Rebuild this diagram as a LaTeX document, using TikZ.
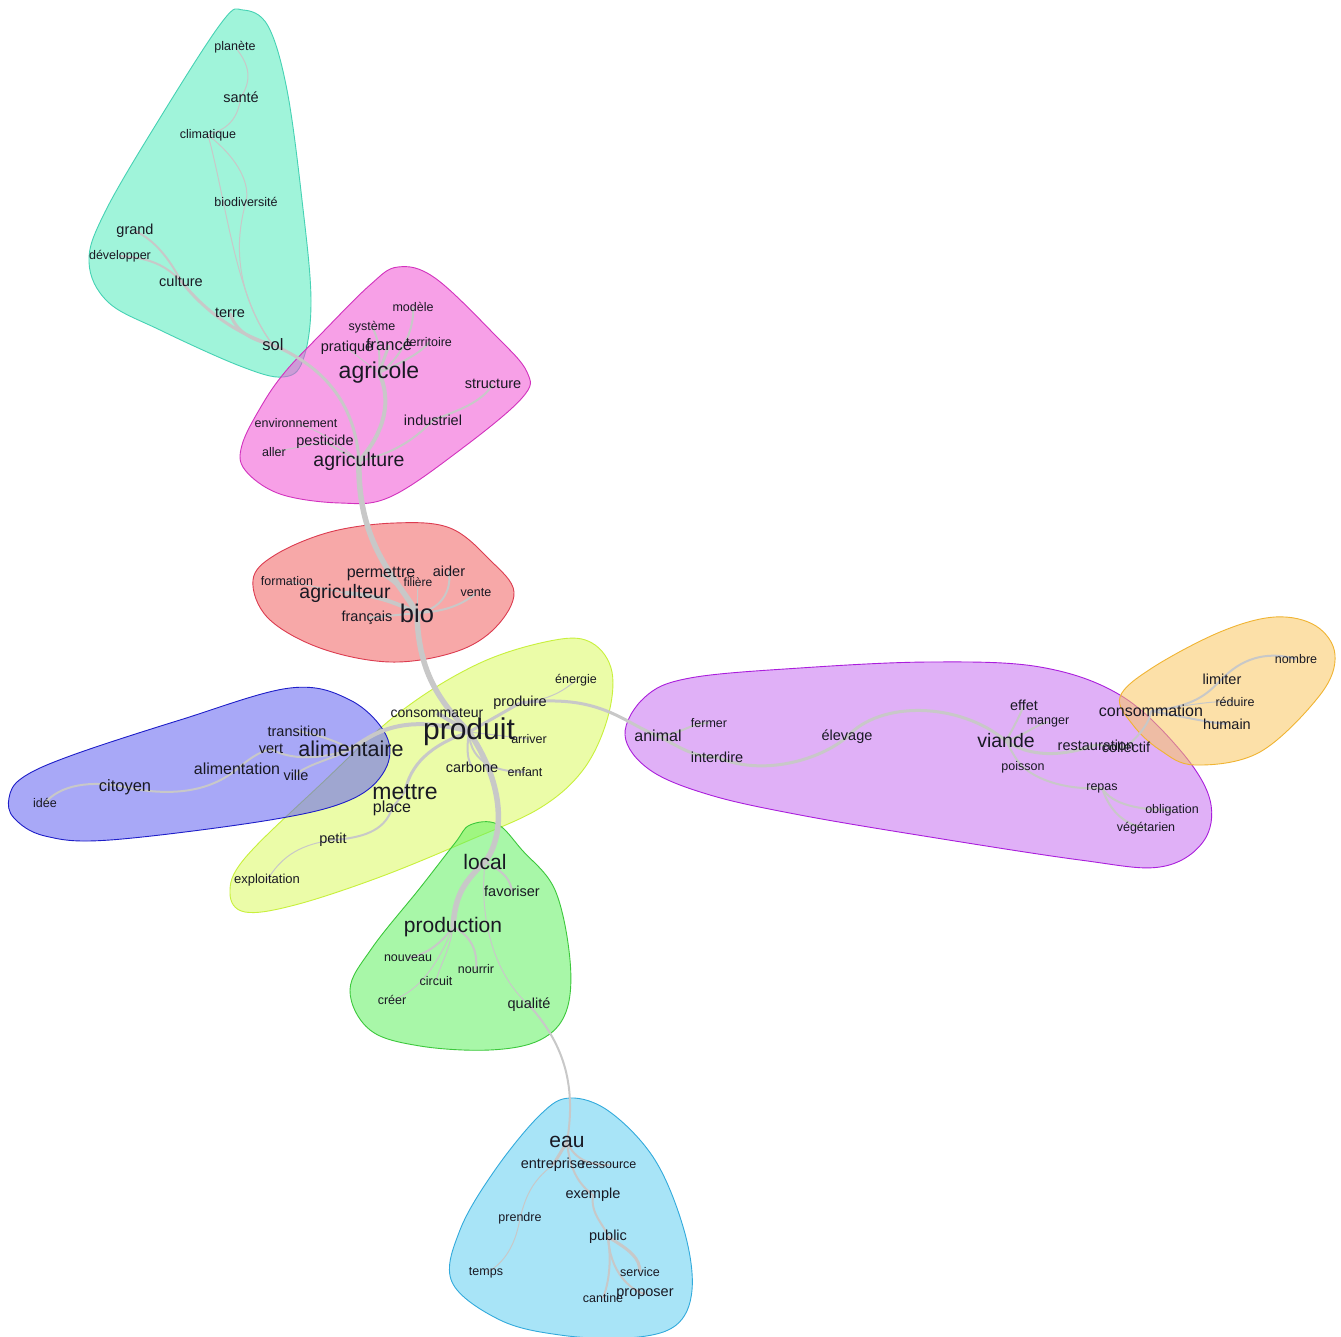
\documentclass[tikz,border=0pt]{standalone}
\usepackage{fontspec}
\setmainfont{Liberation Sans}
\pgfdeclarelayer{blob}
\pgfdeclarelayer{edge}
\pgfsetlayers{blob,edge,main}
\definecolor{edgecol}{RGB}{200,200,200}
\definecolor{cyanF}{RGB}{82,236,188}\definecolor{cyanB}{RGB}{70,210,180}
\definecolor{pinkF}{RGB}{242,82,213}\definecolor{pinkB}{RGB}{210,50,190}
\definecolor{redF}{RGB}{242,97,97}\definecolor{redB}{RGB}{220,60,80}
\definecolor{yelF}{RGB}{220,250,97}\definecolor{yelB}{RGB}{200,240,60}
\definecolor{bluF}{RGB}{97,97,242}\definecolor{bluB}{RGB}{30,30,200}
\definecolor{grnF}{RGB}{97,242,97}\definecolor{grnB}{RGB}{60,200,60}
\definecolor{lbF}{RGB}{97,206,242}\definecolor{lbB}{RGB}{50,170,220}
\definecolor{purF}{RGB}{199,112,242}\definecolor{purB}{RGB}{170,30,220}
\definecolor{orF}{RGB}{250,199,97}\definecolor{orB}{RGB}{240,180,50}
\definecolor{txt}{RGB}{25,25,35}
\begin{document}
\begin{tikzpicture}[x=1pt,y=-1pt,
  lbl/.style={font=\fontsize{#1}{#1}\selectfont,inner sep=0pt,text=txt},
  blob/.style n args={2}{fill=#1,fill opacity=0.55,draw=#2,draw opacity=1,line width=0.9pt},
  e1/.style={draw=edgecol,line width=1pt},
  e2/.style={draw=edgecol,line width=2pt},
  e3/.style={draw=edgecol,line width=3pt},
  e4/.style={draw=edgecol,line width=4pt},
  e5/.style={draw=edgecol,line width=5.5pt}]
\useasboundingbox (0,0) rectangle (1341,1337);
\begin{pgfonlayer}{blob}
\fill[white] (0,0) rectangle (1341,1337);
\begin{scope}
\clip (0,0) rectangle (1341,1337);
\draw[blob={cyanF}{cyanB}] plot[smooth cycle,tension=0.6] coordinates {(243,10) (268,26) (287,90) (302,200) (311,300) (303,360) (283,377) (240,366) (160,330) (108,302) (89,262) (105,212) (160,118) (222,22)};
\draw[blob={pinkF}{pinkB}] plot[smooth cycle,tension=0.6] coordinates {(398,267) (435,278) (495,335) (527,372) (522,398) (460,450) (390,497) (340,503) (280,494) (245,470) (242,445) (262,405) (285,372) (320,335) (370,285)};
\draw[blob={redF}{redB}] plot[smooth cycle,tension=0.6] coordinates {(253,580) (275,555) (330,532) (395,523) (450,528) (490,560) (514,592) (495,628) (455,652) (390,662) (320,648) (268,618)};
\draw[blob={yelF}{yelB}] plot[smooth cycle,tension=0.6] coordinates {(555,640) (592,643) (612,672) (607,720) (583,770) (540,808) (470,840) (380,877) (295,905) (245,912) (230,893) (245,858) (320,785) (400,712) (480,663)};
\draw[blob={bluF}{bluB}] plot[smooth cycle,tension=0.6] coordinates {(22,778) (70,756) (180,720) (290,688) (350,700) (386,735) (385,770) (350,800) (270,820) (110,840) (45,836) (14,818) (9,798)};
\draw[blob={grnF}{grnB}] plot[smooth cycle,tension=0.6] coordinates {(470,825) (497,824) (522,850) (555,890) (570,960) (566,1012) (540,1040) (490,1050) (420,1046) (370,1030) (350,990) (372,948) (420,888) (455,843)};
\draw[blob={lbF}{lbB}] plot[smooth cycle,tension=0.6] coordinates {(570,1098) (610,1112) (655,1160) (684,1230) (692,1290) (675,1326) (628,1338) (560,1335) (500,1320) (452,1282) (460,1230) (495,1170) (540,1115)};
\draw[blob={purF}{purB}] plot[smooth cycle,tension=0.6] coordinates {(625,735) (645,697) (690,678) (800,668) (930,662) (1040,667) (1120,695) (1180,750) (1210,800) (1203,842) (1160,867) (1080,860) (930,837) (800,815) (710,795) (650,770)};
\draw[blob={orF}{orB}] plot[smooth cycle,tension=0.6] coordinates {(1120,697) (1152,668) (1220,632) (1275,617) (1316,626) (1335,655) (1320,695) (1260,752) (1195,765) (1160,750) (1133,725)};
\end{scope}
\end{pgfonlayer}

% ---- labels ----
% cyan
\node[lbl=12.5] (planete) at (235,47) {planète};
\node[lbl=14.5] (sante) at (241,97) {santé};
\node[lbl=12.5] (climatique) at (208,135) {climatique};
\node[lbl=12.5] (biodiversite) at (246,202) {biodiversité};
\node[lbl=14.5] (grand) at (135,231) {grand};
\node[lbl=12.5] (developper) at (120,256) {développer};
\node[lbl=14.5] (culture) at (181,281) {culture};
\node[lbl=14.5] (terre) at (230,313) {terre};
\node[lbl=16.5] (sol) at (273,345) {sol};
% pink
\node[lbl=12.5] (modele) at (413,307) {modèle};
\node[lbl=12.5] (systeme) at (372,327) {système};
\node[lbl=14.5] (pratique) at (347,348) {pratique};
\node[lbl=16.5] (france) at (389,345) {france};
\node[lbl=12.5] (territoire) at (429,342) {territoire};
\node[lbl=23] (agricole) at (379,373) {agricole};
\node[lbl=14.5] (structure) at (493,384) {structure};
\node[lbl=14.5] (industriel) at (433,420) {industriel};
\node[lbl=12.5] (environnement) at (296,423) {environnement};
\node[lbl=14.5] (pesticide) at (325,442) {pesticide};
\node[lbl=12.5] (aller) at (274,452) {aller};
\node[lbl=19.5] (agriculture) at (359,461) {agriculture};
% red
\node[lbl=12.5] (formation) at (287,581) {formation};
\node[lbl=16] (permettre) at (381,574) {permettre};
\node[lbl=12] (filiere) at (418,582) {filière};
\node[lbl=14.5] (aider) at (449,571) {aider};
\node[lbl=19.5] (agriculteur) at (345,593) {agriculteur};
\node[lbl=12.5] (vente) at (476,593) {vente};
\node[lbl=14.5] (francais) at (367,618) {français};
\node[lbl=25.5] (bio) at (417,613) {bio};
% yellow
\node[lbl=12.5] (energie) at (576,680) {énergie};
\node[lbl=14] (consommateur) at (437,713) {consommateur};
\node[lbl=14.5] (produire) at (520,703) {produire};
\node[lbl=30] (produit) at (469,732) {produit};
\node[lbl=12.5] (arriver) at (529,739) {arriver};
\node[lbl=14.5] (carbone) at (472,767) {carbone};
\node[lbl=12.5] (enfant) at (525,772) {enfant};
\node[lbl=23] (mettre) at (405,792) {mettre};
\node[lbl=16] (place) at (392,808) {place};
\node[lbl=14.5] (petit) at (333,840) {petit};
\node[lbl=13] (exploitation) at (267,880) {exploitation};
% blue
\node[lbl=14.5] (transition) at (297,731) {transition};
\node[lbl=14.5] (vert) at (271,749) {vert};
\node[lbl=21.5] (alimentaire) at (351,749) {alimentaire};
\node[lbl=16] (alimentation) at (237,769) {alimentation};
\node[lbl=14.5] (ville) at (296,775) {ville};
\node[lbl=16.5] (citoyen) at (125,787) {citoyen};
\node[lbl=12.5] (idee) at (45,803) {idée};
% green
\node[lbl=21] (local) at (485,862) {local};
\node[lbl=14.5] (favoriser) at (512,891) {favoriser};
\node[lbl=21] (production) at (453,927) {production};
\node[lbl=12.5] (nouveau) at (408,958) {nouveau};
\node[lbl=12.5] (nourrir) at (476,969) {nourrir};
\node[lbl=12.5] (circuit) at (436,981) {circuit};
\node[lbl=12.5] (creer) at (392,1000) {créer};
\node[lbl=14.5] (qualite) at (529,1005) {qualité};
% light blue
\node[lbl=21] (eau) at (567,1142) {eau};
\node[lbl=14.5] (entreprise) at (553,1165) {entreprise};
\node[lbl=12.5] (ressource) at (609,1165) {ressource};
\node[lbl=14.5] (exemple) at (593,1195) {exemple};
\node[lbl=12.5] (prendre) at (520,1218) {prendre};
\node[lbl=14.5] (public) at (608,1237) {public};
\node[lbl=12.5] (temps) at (486,1273) {temps};
\node[lbl=12.5] (service) at (640,1272) {service};
\node[lbl=12.5] (cantine) at (603,1298) {cantine};
\node[lbl=14.5] (proposer) at (645,1294) {proposer};
% purple
\node[lbl=16] (animal) at (658,736) {animal};
\node[lbl=12.5] (fermer) at (709,723) {fermer};
\node[lbl=14.5] (interdire) at (717,757) {interdire};
\node[lbl=14.5] (elevage) at (847,737) {élevage};
\node[lbl=14.5] (effet) at (1024,705) {effet};
\node[lbl=12.5] (manger) at (1048,722) {manger};
\node[lbl=19.5] (viande) at (1006,741) {viande};
\node[lbl=14.5] (restauration) at (1096,745) {restauration};
\node[lbl=14.5] (collectif) at (1126,747) {collectif};
\node[lbl=12.5] (poisson) at (1023,767) {poisson};
\node[lbl=12.5] (repas) at (1102,788) {repas};
\node[lbl=12.5] (obligation) at (1172,810) {obligation};
\node[lbl=12.5] (vegetarien) at (1146,828) {végétarien};
% orange
\node[lbl=12.5] (nombre) at (1296,659) {nombre};
\node[lbl=14.5] (limiter) at (1222,679) {limiter};
\node[lbl=12.5] (reduire) at (1235,702) {réduire};
\node[lbl=16] (consommation) at (1151,711) {consommation};
\node[lbl=14.5] (humain) at (1227,724) {humain};

% ---- edges ----
\begin{pgfonlayer}{edge}
% cyan
\draw[e1] (planete.center) .. controls (250,65) and (252,80) .. (sante.center);
\draw[e1] (sante.center) .. controls (238,115) and (232,128) .. (climatique.center);
\draw[e1] (climatique.center) .. controls (240,160) and (250,185) .. (biodiversite.center);
\draw[e1] (biodiversite.center) .. controls (232,250) and (240,300) .. (sol.center);
\draw[e1] (climatique.center) .. controls (226,200) and (236,300) .. (sol.center);
\draw[e2] (grand.center) .. controls (155,240) and (170,260) .. (culture.center);
\draw[e2] (developper.center) .. controls (150,258) and (165,265) .. (culture.center);
\draw[e3] (culture.center) .. controls (200,305) and (230,332) .. (sol.center);
\draw[e3] (terre.center) .. controls (235,330) and (250,340) .. (sol.center);
\draw[e3] (sol.center) .. controls (320,365) and (355,400) .. (agriculture.center);
% pink
\draw[e2] (systeme.center) .. controls (380,340) and (380,360) .. (agricole.center);
\draw[e1] (pratique.center) -- (agricole.center);
\draw[e3] (france.center) -- (agricole.center);
\draw[e2] (modele.center) .. controls (415,330) and (400,360) .. (agricole.center);
\draw[e2] (territoire.center) .. controls (420,355) and (395,365) .. (agricole.center);
\draw[e4] (agricole.center) .. controls (392,400) and (385,432) .. (agriculture.center);
\draw[e2] (structure.center) .. controls (482,402) and (460,410) .. (industriel.center);
\draw[e2] (industriel.center) .. controls (415,440) and (390,455) .. (agriculture.center);
\draw[e2] (pesticide.center) -- (agriculture.center);
\draw[e1] (aller.center) -- (pesticide.center);
\draw[e1] (environnement.center) .. controls (320,430) and (340,445) .. (agriculture.center);
% red
\draw[e5] (agriculture.center) .. controls (357,545) and (398,580) .. (bio.center);
\draw[e4] (agriculteur.center) .. controls (380,595) and (400,605) .. (bio.center);
\draw[e1] (formation.center) -- (agriculteur.center);
\draw[e2] (permettre.center) .. controls (400,585) and (410,600) .. (bio.center);
\draw[e1] (filiere.center) -- (bio.center);
\draw[e2] (aider.center) .. controls (452,592) and (440,610) .. (bio.center);
\draw[e2] (vente.center) .. controls (460,607) and (440,612) .. (bio.center);
\draw[e2] (francais.center) -- (bio.center);
% produit hub
\draw[e5] (bio.center) .. controls (418,672) and (440,702) .. (produit.center);
\draw[e4] (consommateur.center) -- (produit.center);
\draw[e4] (produit.center) .. controls (400,712) and (372,735) .. (alimentaire.center);
\draw[e3] (produit.center) -- (produire.center);
\draw[e1] (produire.center) .. controls (550,700) and (565,690) .. (energie.center);
\draw[e3] (produire.center) .. controls (600,693) and (622,722) .. (animal.center);
\draw[e1] (produit.center) -- (arriver.center);
\draw[e2] (produit.center) .. controls (466,752) and (468,760) .. (carbone.center);
\draw[e2] (produit.center) .. controls (470,765) and (500,772) .. (enfant.center);
\draw[e3] (produit.center) .. controls (430,745) and (410,765) .. (mettre.center);
\draw[e2] (mettre.center) -- (place.center);
\draw[e2] (place.center) .. controls (385,832) and (360,838) .. (petit.center);
\draw[e1] (petit.center) .. controls (295,845) and (280,860) .. (exploitation.center);
\draw[e5] (produit.center) .. controls (502,780) and (507,832) .. (local.center);
\draw[e5] (local.center) .. controls (460,885) and (455,900) .. (production.center);
\draw[e2] (local.center) .. controls (505,872) and (510,880) .. (favoriser.center);
\draw[e1] (local.center) .. controls (478,930) and (500,980) .. (qualite.center);
\draw[e2] (qualite.center) .. controls (562,1042) and (577,1082) .. (eau.center);
\draw[e2] (production.center) .. controls (440,945) and (425,955) .. (nouveau.center);
\draw[e2] (production.center) .. controls (470,935) and (478,950) .. (nourrir.center);
\draw[e1] (production.center) .. controls (450,950) and (440,965) .. (circuit.center);
\draw[e1] (production.center) .. controls (440,960) and (420,992) .. (creer.center);
% blue
\draw[e2] (alimentaire.center) .. controls (330,738) and (310,733) .. (transition.center);
\draw[e2] (alimentaire.center) .. controls (320,760) and (290,760) .. (vert.center);
\draw[e2] (alimentaire.center) .. controls (330,760) and (305,765) .. (ville.center);
\draw[e2] (vert.center) .. controls (258,752) and (248,760) .. (alimentation.center);
\draw[e2] (alimentation.center) .. controls (210,792) and (170,797) .. (citoyen.center);
\draw[e2] (citoyen.center) .. controls (90,780) and (60,785) .. (idee.center);
% light blue
\draw[e3] (eau.center) -- (entreprise.center);
\draw[e2] (eau.center) .. controls (575,1160) and (590,1165) .. (ressource.center);
\draw[e2] (eau.center) .. controls (570,1172) and (580,1185) .. (exemple.center);
\draw[e2] (exemple.center) .. controls (590,1215) and (605,1225) .. (public.center);
\draw[e3] (public.center) .. controls (630,1250) and (640,1258) .. (service.center);
\draw[e2] (public.center) .. controls (610,1272) and (630,1290) .. (proposer.center);
\draw[e2] (public.center) .. controls (612,1265) and (608,1285) .. (cantine.center);
\draw[e1] (entreprise.center) .. controls (530,1182) and (525,1200) .. (prendre.center);
\draw[e1] (prendre.center) .. controls (515,1250) and (500,1266) .. (temps.center);
% purple
\draw[e2] (animal.center) .. controls (680,735) and (690,723) .. (fermer.center);
\draw[e3] (animal.center) .. controls (680,747) and (692,757) .. (interdire.center);
\draw[e3] (interdire.center) .. controls (762,777) and (820,760) .. (elevage.center);
\draw[e3] (elevage.center) .. controls (880,700) and (960,702) .. (viande.center);
\draw[e2] (viande.center) .. controls (1015,725) and (1020,715) .. (effet.center);
\draw[e2] (viande.center) .. controls (1025,735) and (1035,725) .. (manger.center);
\draw[e2] (viande.center) .. controls (1012,752) and (1016,760) .. (poisson.center);
\draw[e3] (viande.center) .. controls (1030,757) and (1060,757) .. (restauration.center);
\draw[e2] (restauration.center) -- (collectif.center);
\draw[e2] (collectif.center) .. controls (1140,735) and (1150,722) .. (consommation.center);
\draw[e2] (poisson.center) .. controls (1040,782) and (1070,790) .. (repas.center);
\draw[e2] (repas.center) .. controls (1112,805) and (1140,810) .. (obligation.center);
\draw[e2] (repas.center) .. controls (1110,812) and (1125,825) .. (vegetarien.center);
% orange
\draw[e2] (consommation.center) .. controls (1200,706) and (1210,690) .. (limiter.center);
\draw[e1] (consommation.center) .. controls (1190,705) and (1215,700) .. (reduire.center);
\draw[e2] (consommation.center) .. controls (1190,718) and (1205,722) .. (humain.center);
\draw[e2] (limiter.center) .. controls (1240,660) and (1265,650) .. (nombre.center);
\end{pgfonlayer}
\end{tikzpicture}
\end{document}
